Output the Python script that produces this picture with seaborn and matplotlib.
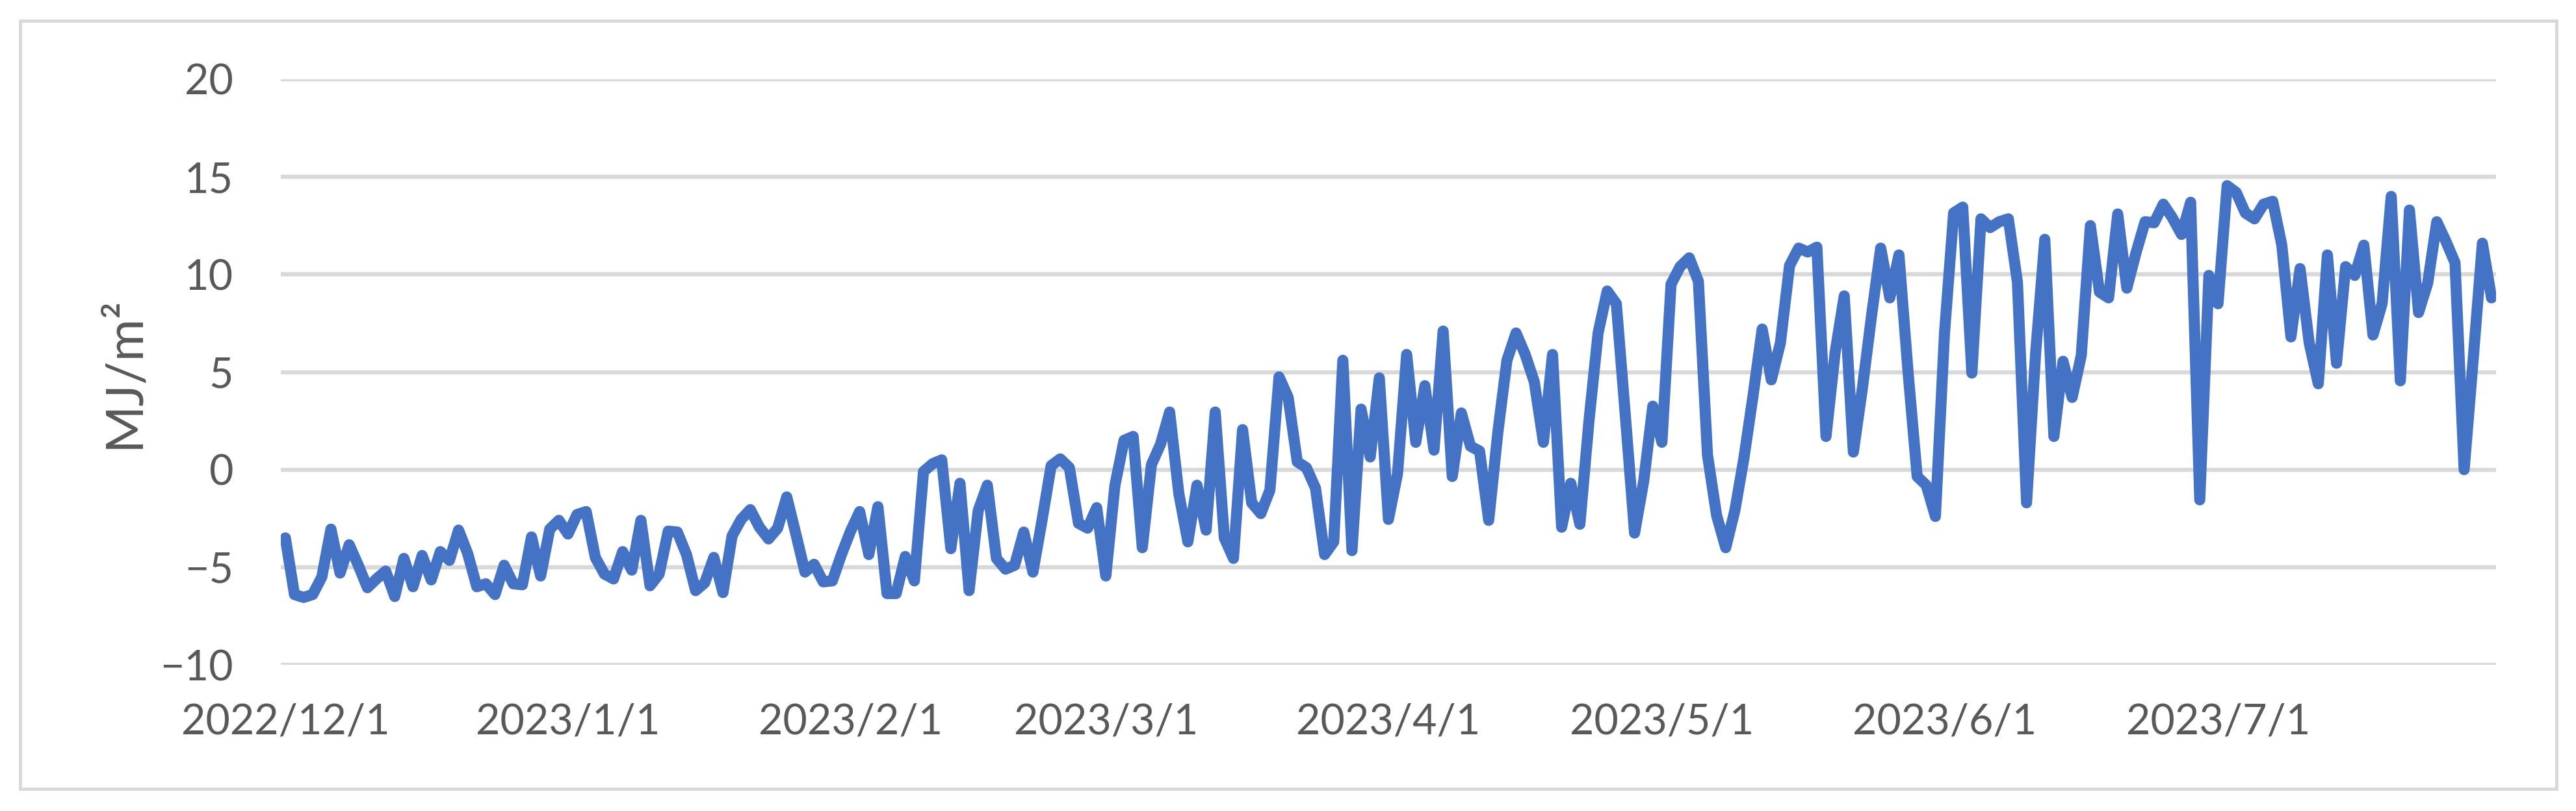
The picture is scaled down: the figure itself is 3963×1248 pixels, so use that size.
import numpy as np
import pandas as pd
import matplotlib
matplotlib.use("Agg")
import matplotlib.pyplot as plt
from matplotlib.patches import Rectangle
import seaborn as sns

# ---- data -------------------------------------------------------------
start_date = "2022-12-01"
end_date = "2023-07-31"

radiation = [
    -3.5, -6.4, -6.55, -6.4, -5.5, -3.05, -5.3, -3.85, -4.9, -6.05,
    -5.6, -5.2, -6.5, -4.55, -6.0, -4.4, -5.65, -4.2, -4.65, -3.1,
    -4.3, -6.0, -5.85, -6.4, -4.9, -5.85, -5.9, -3.45, -5.45, -3.05,
    -2.6, -3.3, -2.3, -2.15, -4.5, -5.35, -5.6, -4.2, -5.15, -2.6,
    -5.95, -5.35, -3.15, -3.2, -4.35, -6.2, -5.8, -4.5, -6.3, -3.4,
    -2.55, -2.05, -2.95, -3.55, -3.0, -1.4, -3.3, -5.25, -4.85, -5.75,
    -5.7, -4.35, -3.15, -2.15, -4.35, -1.9, -6.35, -6.35, -4.45, -5.7,
    -0.1, 0.3, 0.5, -4.05, -0.7, -6.2, -2.1, -0.8, -4.55, -5.1,
    -4.9, -3.2, -5.25, -2.6, 0.2, 0.55, 0.1, -2.75, -3.0, -1.95,
    -5.45, -0.8, 1.5, 1.7, -4.0, 0.25, 1.3, 2.95, -1.2, -3.7,
    -0.8, -3.1, 2.95, -3.5, -4.55, 2.05, -1.7, -2.25, -1.05, 4.75,
    3.7, 0.4, 0.1, -0.95, -4.35, -3.7, 5.6, -4.15, 3.1, 0.65,
    4.7, -2.55, -0.2, 5.9, 1.4, 4.3, 1.0, 7.1, -0.35, 2.9,
    1.2, 0.95, -2.6, 1.9, 5.6, 7.0, 5.9, 4.5, 1.4, 5.9,
    -2.95, -0.7, -2.8, 2.5, 7.0, 9.15, 8.5, 2.7, -3.25, -0.6,
    3.25, 1.4, 9.5, 10.4, 10.85, 9.65, 0.75, -2.35, -4.0, -2.1,
    0.6, 3.8, 7.2, 4.6, 6.5, 10.45, 11.35, 11.15, 11.4, 1.7,
    6.0, 8.9, 0.9, 4.2, 7.9, 11.35, 8.8, 11.0, 5.0, -0.35,
    -0.8, -2.4, 7.0, 13.15, 13.45, 4.95, 12.85, 12.4, 12.7, 12.85,
    9.6, -1.7, 6.0, 11.8, 1.7, 5.55, 3.7, 5.85, 12.5, 9.1,
    8.8, 13.1, 9.3, 11.1, 12.7, 12.65, 13.6, 12.9, 12.05, 13.7,
    -1.55, 9.95, 8.5, 14.55, 14.2, 13.15, 12.85, 13.6, 13.75, 11.5,
    6.8, 10.3, 6.5, 4.4, 11.0, 5.45, 10.4, 9.95, 11.5, 6.9,
    8.5, 14.0, 4.55, 13.3, 8.05, 9.55, 12.7, 11.7, 10.6, 0.0,
    5.7, 11.6, 8.8,
]

tick_dates = ["2022-12-01", "2023-01-01", "2023-02-01", "2023-03-01",
              "2023-04-01", "2023-05-01", "2023-06-01", "2023-07-01"]
tick_labels = ["2022/12/1", "2023/1/1", "2023/2/1", "2023/3/1",
               "2023/4/1", "2023/5/1", "2023/6/1", "2023/7/1"]
y_ticks = [-10, -5, 0, 5, 10, 15, 20]
y_label = "MJ/m²"

# ---- style ------------------------------------------------------------
sns.set_theme(style="white")
plt.rcParams["font.family"] = ["Lato", "DejaVu Sans"]

TEXT = "#595959"
GRID = "#D9D9D9"
LINE = "#4472C4"

dates = pd.date_range(start_date, end_date, freq="D")
df = pd.DataFrame({"date": dates, "value": radiation})

W, H, DPI = 3963, 1248, 300
fig = plt.figure(figsize=(W / DPI, H / DPI), dpi=DPI)
fig.patch.set_facecolor("white")

ax = fig.add_axes([432 / W, 1 - 1023 / H, (3840 - 432) / W, (1023 - 122) / H])

ax.set_axisbelow(True)
for yv in y_ticks:
    ax.axhline(yv, color=GRID, lw=1.55, zorder=0)

sns.lineplot(data=df, x="date", y="value", ax=ax, color=LINE,
             linewidth=4.1, solid_joinstyle="round", solid_capstyle="round",
             zorder=3)

ax.set_xlim(dates[0] - pd.Timedelta(hours=12), dates[-1] + pd.Timedelta(hours=12))
ax.set_ylim(-10, 20)
ax.set_yticks(y_ticks)
ax.set_xticks(pd.to_datetime(tick_dates))
ax.set_xticklabels(tick_labels)

ax.tick_params(axis="both", length=0, labelsize=15.5, colors=TEXT)
ax.tick_params(axis="y", pad=17.5)
ax.tick_params(axis="x", pad=14)
for s in ax.spines.values():
    s.set_visible(False)
ax.grid(False)

ax.set_xlabel("")
ax.set_ylabel(y_label, fontsize=19, color=TEXT)
ax.yaxis.set_label_coords(-0.06, 0.5)

# outer chart border
fig.add_artist(Rectangle((31 / W, 34 / H), (3933 - 31) / W, (1214 - 32) / H,
                         transform=fig.transFigure, fill=False,
                         edgecolor=GRID, linewidth=1.2))

fig.savefig("out.png", dpi=DPI, facecolor="white")
